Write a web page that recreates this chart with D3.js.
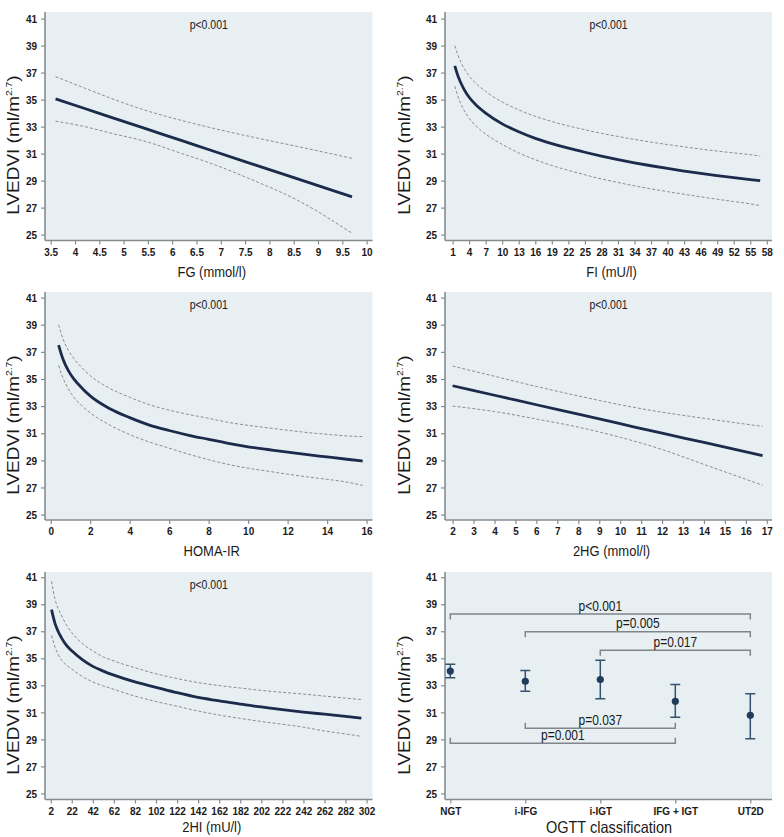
<!DOCTYPE html>
<html><head><meta charset="utf-8">
<script src="https://cdn.jsdelivr.net/npm/d3@7"></script>
<style>body{margin:0;background:#fff} svg{display:block} text{font-family:"Liberation Sans",Arial,Helvetica,sans-serif}</style>
</head><body><svg id="c" width="784" height="837"></svg>
<script>
// ---------- data ----------
const yTicks = [25,27,29,31,33,35,37,39,41];

const fgTicks = [3.5,4,4.5,5,5.5,6,6.5,7,7.5,8,8.5,9,9.5,10];
const fgX     = [3.6, 4.2, 4.7, 5.5, 6.2, 6.7, 7.75, 8.55, 9.7];
const fgFit   = [35.05, 34.34, 33.74, 32.79, 31.96, 31.36, 30.11, 29.16, 27.8];
const fgUpper = [36.7, 35.85, 35.15, 34.15, 33.45, 33.0, 32.15, 31.55, 30.65];
const fgLower = [33.4, 33.0, 32.55, 31.85, 31.0, 30.4, 28.9, 27.6, 25.1];

const fiTicks = [1,4,7,10,13,16,19,22,25,28,31,34,37,40,43,46,49,52,55,58];
const fiX     = [1.4, 2, 3, 4, 5.5, 7, 10, 13, 16, 19, 22, 25, 28, 31, 34, 37, 40, 43, 46, 49, 52, 55, 56.8];
const fiFit   = [37.5, 36.72, 35.82, 35.17, 34.5, 34.0, 33.2, 32.62, 32.13, 31.74, 31.4, 31.1, 30.82, 30.56, 30.32, 30.1, 29.9, 29.71, 29.53, 29.37, 29.22, 29.08, 29.0];
const fiUpper = [39.0, 38.25, 37.38, 36.75, 36.1, 35.6, 34.82, 34.24, 33.76, 33.38, 33.05, 32.77, 32.5, 32.27, 32.05, 31.85, 31.67, 31.5, 31.34, 31.19, 31.05, 30.92, 30.82];
const fiLower = [36.0, 35.2, 34.27, 33.62, 32.95, 32.45, 31.68, 31.05, 30.55, 30.12, 29.76, 29.43, 29.12, 28.86, 28.61, 28.39, 28.18, 27.99, 27.8, 27.62, 27.45, 27.28, 27.15];

const homaTicks = [0,2,4,6,8,10,12,14,16];
const homaX     = [0.4, 0.6, 0.9, 1.2, 1.6, 2, 3, 4, 5, 6, 7, 8, 9, 10, 11, 12, 13, 14, 15, 15.8];
const homaFit   = [37.5, 36.55, 35.6, 34.95, 34.3, 33.75, 32.8, 32.15, 31.6, 31.2, 30.85, 30.55, 30.25, 30.0, 29.8, 29.6, 29.42, 29.25, 29.08, 28.95];
const homaUpper = [39.0, 38.05, 37.1, 36.45, 35.8, 35.25, 34.3, 33.65, 33.1, 32.7, 32.38, 32.1, 31.8, 31.58, 31.4, 31.22, 31.05, 30.92, 30.8, 30.75];
const homaLower = [36.0, 35.15, 34.25, 33.6, 33.0, 32.5, 31.6, 30.9, 30.35, 29.9, 29.45, 29.05, 28.7, 28.42, 28.2, 27.98, 27.78, 27.6, 27.4, 27.15];

const hgTicks = [2,3,4,5,6,7,8,9,10,11,12,13,14,15,16,17];
const hgX     = [2, 4, 6, 8, 10, 12, 14, 16.8];
const hgFit   = [34.5, 33.8, 33.1, 32.4, 31.7, 31.0, 30.32, 29.35];
const hgUpper = [35.95, 35.2, 34.45, 33.75, 33.1, 32.55, 32.1, 31.5];
const hgLower = [33.0, 32.6, 32.05, 31.45, 30.7, 29.8, 28.7, 27.17];

const hiTicks = [2,22,42,62,82,102,122,142,162,182,202,222,242,262,282,302];
const hiX     = [2.8, 6, 9, 12, 17, 22, 32, 42, 52, 62, 82, 102, 122, 142, 162, 182, 202, 222, 242, 262, 282, 297];
const hiFit   = [38.6, 37.6, 37.0, 36.55, 35.95, 35.55, 34.9, 34.4, 34.05, 33.75, 33.25, 32.85, 32.45, 32.1, 31.85, 31.6, 31.4, 31.2, 31.02, 30.86, 30.7, 30.57];
const hiUpper = [40.7, 39.4, 38.7, 38.2, 37.45, 36.9, 36.1, 35.55, 35.1, 34.8, 34.3, 33.85, 33.5, 33.2, 32.98, 32.8, 32.62, 32.48, 32.35, 32.2, 32.05, 31.95];
const hiLower = [36.7, 35.85, 35.3, 34.9, 34.5, 34.2, 33.65, 33.25, 32.95, 32.7, 32.2, 31.8, 31.45, 31.1, 30.8, 30.55, 30.32, 30.12, 29.9, 29.62, 29.4, 29.22];

const ogttCats = ["NGT","i-IFG","i-IGT","IFG + IGT","UT2D"];
const ogttMean = [34.05, 33.3, 33.43, 31.82, 30.78];
const ogttLow  = [33.56, 32.56, 32.0, 30.63, 29.04];
const ogttHigh = [34.55, 34.1, 34.85, 33.06, 32.37];

const brFrom  = ["NGT","i-IFG","i-IGT","i-IFG","NGT"];
const brTo    = ["UT2D","UT2D","UT2D","IFG + IGT","IFG + IGT"];
const brY     = [38.27, 36.96, 35.6, 29.83, 28.72];
const brLabel = ["p<0.001","p=0.005","p=0.017","p=0.037","p=0.001"];
const brDir   = ["down","down","down","up","up"];

const panelP = "p<0.001";
const yTitleMain = "LVEDVI (ml/m", yTitleSup = "2.7", yTitleEnd = ")";

// ---------- layout ----------
const SY = 1.15;
const cols = [
  {axisX: 45, right: 372.5, xr: [50.7, 366.6], ytx: 18.5},
  {axisX: 445, right: 772, xr: [452.6, 766.8], ytx: 410}
];
const rows = [
  {top: 12, axisY: 240.5, yr: [234.6, 18.6], xt: 276.5},
  {top: 292, axisY: 520, yr: [514.6, 297.6], xt: 556},
  {top: 572, axisY: 799.5, yr: [793.4, 577.2], xt: 832}
];
const BG = "#e8eff2", AX = "#858c90", TXT = "#1a1a1a";
const fmt = d3.format("~g");

const svg = d3.select("#c");

function txt(g, x, y, s, size, anchor, weight) {
  return g.append("text")
    .attr("transform", `translate(${x},${y}) scale(1,${SY})`)
    .attr("font-size", size).attr("text-anchor", anchor || "middle")
    .attr("font-weight", weight || "normal").attr("fill", TXT).text(s);
}

function styleAxis(a) {
  a.select(".domain").attr("stroke", AX).attr("stroke-width", 1.6);
  a.selectAll(".tick line").attr("stroke", AX).attr("stroke-width", 1.2);
  a.selectAll("text").attr("font-size", 10).attr("font-weight", "bold").attr("fill", TXT)
    .attr("font-family", '"Liberation Sans",Arial,sans-serif');
}

function frame(col, row) {
  const c = cols[col], r = rows[row];
  const g = svg.append("g");
  g.append("rect").attr("x", c.axisX).attr("y", r.top)
    .attr("width", c.right - c.axisX).attr("height", r.axisY - r.top).attr("fill", BG);
  const y = d3.scaleLinear().domain([25, 41]).range(r.yr);
  const ya = g.append("g").attr("transform", `translate(${c.axisX},0)`)
    .call(d3.axisLeft(y).tickValues(yTicks).tickSize(4).tickPadding(4).tickSizeOuter(0));
  ya.select(".domain").attr("d", `M0,${r.top}V${r.axisY}`);
  styleAxis(ya);
  ya.selectAll("text").attr("transform", `scale(1,${SY})`);
  const t = g.append("text")
    .attr("transform", `translate(${c.ytx},${r.top + 133}) scale(1,${SY}) rotate(-90)`)
    .attr("font-size", 16.5).attr("text-anchor", "middle").attr("fill", TXT);
  t.append("tspan").text(yTitleMain);
  t.append("tspan").attr("font-size", 9).attr("dy", -7).text(yTitleSup);
  t.append("tspan").attr("dy", 7).text(yTitleEnd);
  return {g, y, c, r};
}

function xAxis(f, x, ticks, isNum) {
  const {g, c, r} = f;
  const ax = d3.axisBottom(x).tickValues(ticks).tickSize(4).tickPadding(2).tickSizeOuter(0);
  if (isNum) ax.tickFormat(fmt);
  const a = g.append("g").attr("transform", `translate(0,${r.axisY})`).call(ax);
  a.select(".domain").attr("d", `M${c.axisX},0H${c.right}`);
  styleAxis(a);
  a.selectAll("text").attr("transform", `scale(1,${SY})`);
}

function curvePanel(col, row, ticks, dom, xs, fit, up, lo, xTitle) {
  const f = frame(col, row);
  const x = d3.scaleLinear().domain(dom).range(f.c.xr);
  xAxis(f, x, ticks, true);
  const line = (vals) => d3.line().x((d, i) => x(xs[i])).y(d => f.y(d)).curve(d3.curveMonotoneX)(vals);
  [up, lo].forEach(v => f.g.append("path").attr("d", line(v)).attr("fill", "none")
    .attr("stroke", "#8c8c8c").attr("stroke-width", 1).attr("stroke-dasharray", "3,2"));
  f.g.append("path").attr("d", line(fit)).attr("fill", "none")
    .attr("stroke", "#1c2a4c").attr("stroke-width", 2.8).attr("stroke-linecap", "butt");
  const cx = (f.c.axisX + f.c.right) / 2;
  txt(f.g, cx, f.r.top + 17.3, panelP, 10.5);
  txt(f.g, cx + 3, f.r.xt, xTitle, 13);
}

curvePanel(0, 0, fgTicks, [3.5, 10], fgX, fgFit, fgUpper, fgLower, "FG (mmol/l)");
curvePanel(1, 0, fiTicks, [1, 58], fiX, fiFit, fiUpper, fiLower, "FI (mU/l)");
curvePanel(0, 1, homaTicks, [0, 16], homaX, homaFit, homaUpper, homaLower, "HOMA-IR");
curvePanel(1, 1, hgTicks, [2, 17], hgX, hgFit, hgUpper, hgLower, "2HG (mmol/l)");
curvePanel(0, 2, hiTicks, [2, 302], hiX, hiFit, hiUpper, hiLower, "2HI (mU/l)");

// OGTT panel
(function () {
  const f = frame(1, 2);
  const x = d3.scalePoint().domain(ogttCats).range([450.3, 750.3]);
  xAxis(f, x, ogttCats, false);
  const g = f.g, y = f.y;
  brLabel.forEach((lab, i) => {
    const x1 = x(brFrom[i]), x2 = x(brTo[i]), yy = y(brY[i]);
    const d = brDir[i] === "down" ? 5.5 : -5.5;
    g.append("path").attr("d", `M${x1},${yy + d}V${yy}H${x2}V${yy + d}`)
      .attr("fill", "none").attr("stroke", "#808589").attr("stroke-width", 1.5);
    txt(g, (x1 + x2) / 2, yy - 3.5, lab, 12);
  });
  ogttCats.forEach((cat, i) => {
    const cx = x(cat);
    g.append("path").attr("d",
      `M${cx - 5},${y(ogttHigh[i])}H${cx + 5}M${cx},${y(ogttHigh[i])}V${y(ogttLow[i])}M${cx - 5},${y(ogttLow[i])}H${cx + 5}`)
      .attr("stroke", "#34536f").attr("stroke-width", 1.5).attr("fill", "none");
    g.append("circle").attr("cx", cx).attr("cy", y(ogttMean[i])).attr("r", 3.6).attr("fill", "#1f3c5c");
  });
  txt(g, 609, 833, "OGTT classification", 14.5);
})();
</script></body></html>
